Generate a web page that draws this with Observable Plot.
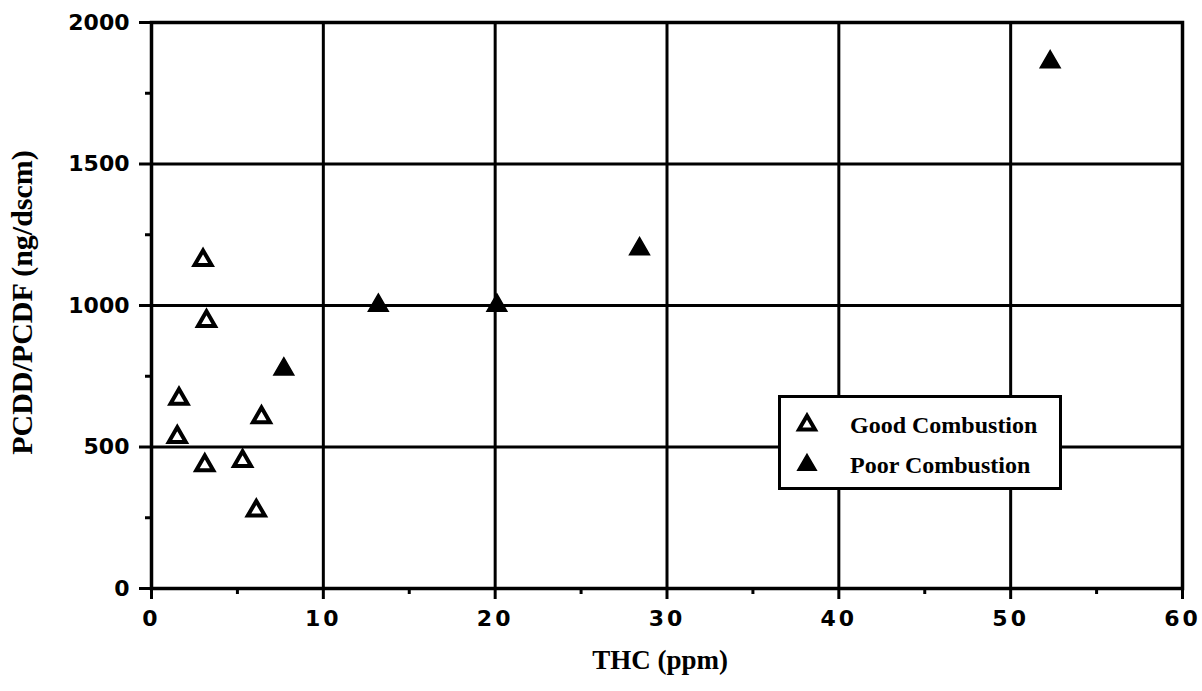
<!DOCTYPE html>
<html>
<head>
<meta charset="utf-8">
<script src="https://cdn.jsdelivr.net/npm/d3@7"></script>
<script src="https://cdn.jsdelivr.net/npm/@observablehq/plot@0.6"></script>
<style>
  html, body { margin: 0; padding: 0; background: #fff; }
  #wrap { position: relative; width: 1202px; height: 691px; }
  #wrap svg { display: block; }
  .legend {
    position: absolute; left: 778px; top: 395px; width: 278px; height: 89px;
    border: 3px solid #000; background: #fff;
    font-family: "Liberation Serif", "Times New Roman", serif; font-weight: bold;
    font-size: 24px; color: #000;
  }
  .legend .row { position: absolute; left: 0; display: flex; align-items: center; height: 30px; }
  .legend .row svg { width: 26px; height: 26px; margin-left: 13px; margin-right: 30px; }
</style>
</head>
<body>
<div id="wrap"></div>
<script>
// PCDD/PCDF emissions versus total hydrocarbons
const goodTHC  = [1.5, 1.6, 3.0, 3.1, 3.2, 5.3, 6.1, 6.4];
const goodPCDD = [535, 670, 1160, 435, 945, 450, 275, 605];
const poorTHC  = [7.7, 13.2, 20.1, 28.4, 52.3];
const poorPCDD = [775, 1000, 1000, 1200, 1860];

const xTicks = [0, 10, 20, 30, 40, 50, 60];
const xMinor = [5, 15, 25, 35, 45, 55];
const yTicks = [0, 500, 1000, 1500, 2000];
const yMinor = [250, 750, 1250, 1750];
const xGrid = [10, 20, 30, 40, 50];
const yGrid = [500, 1000, 1500];

const xTitle = "THC (ppm)";
const yTitle = "PCDD/PCDF (ng/dscm)";
const seriesNames = ["Good Combustion", "Poor Combustion"];

const good = goodTHC.map((x, i) => ({x, y: goodPCDD[i]}));
const poor = poorTHC.map((x, i) => ({x, y: poorPCDD[i]}));

const tickFont = "DejaVu Sans, Verdana, sans-serif";
const titleFont = "Liberation Serif, Times New Roman, serif";

const chart = Plot.plot({
  width: 1202,
  height: 691,
  marginLeft: 151,
  marginRight: 20,
  marginTop: 22,
  marginBottom: 103,
  style: {background: "#fff", color: "#000"},
  x: {domain: [0, 60]},
  y: {domain: [0, 2000]},
  marks: [
    Plot.ruleX(xGrid, {stroke: "#000", strokeWidth: 3}),
    Plot.ruleY(yGrid, {stroke: "#000", strokeWidth: 3}),
    Plot.frame({stroke: "#000", strokeWidth: 3.5}),
    Plot.axisX(xTicks, {
      tickSize: 11, tickPadding: 11, strokeWidth: 3, label: null,
      fontFamily: tickFont, fontWeight: "bold", fontSize: 22,
      tickFormat: d => String(d)
    }),
    Plot.axisX(xMinor, {tickSize: 6, strokeWidth: 3, text: null, label: null}),
    Plot.axisY(yTicks, {
      tickSize: 12, tickPadding: 10, strokeWidth: 3, label: null,
      fontFamily: tickFont, fontWeight: "bold", fontSize: 22,
      tickFormat: d => String(d)
    }),
    Plot.axisY(yMinor, {tickSize: 6, strokeWidth: 3, text: null, label: null}),
    Plot.text([yTitle], {
      frameAnchor: "left", textAnchor: "middle", rotate: -90, dx: -129, dy: -3,
      fontFamily: titleFont, fontWeight: "bold", fontSize: 30, fill: "#000"
    }),
    Plot.text([xTitle], {
      frameAnchor: "bottom", dx: -7, dy: 80,
      fontFamily: titleFont, fontWeight: "bold", fontSize: 27, fill: "#000"
    }),
    Plot.dot(good, {x: "x", y: "y", symbol: "triangle", r: 6.3,
      stroke: "#000", strokeWidth: 4, fill: "#fff"}),
    Plot.dot(poor, {x: "x", y: "y", symbol: "triangle", r: 7.4,
      stroke: "#000", strokeWidth: 1.5, fill: "#000"})
  ]
});

// letter-spaced x tick labels
d3.select(chart).selectAll("g[aria-label='x-axis tick label'] text")
  .style("letter-spacing", "3px");

const wrap = document.getElementById("wrap");
wrap.appendChild(chart);

// legend box drawn inside the plot area
const legend = document.createElement("div");
legend.className = "legend";
const tri = (filled) => {
  const s = d3.create("svg").attr("viewBox", "-13 -13 26 26");
  s.append("path")
    .attr("d", d3.symbol(d3.symbolTriangle, filled ? 150 : 110)())
    .attr("fill", filled ? "#000" : "#fff")
    .attr("stroke", "#000")
    .attr("stroke-width", filled ? 1.5 : 4);
  return s.node();
};
seriesNames.forEach((name, i) => {
  const row = document.createElement("div");
  row.className = "row";
  row.style.top = (i === 0 ? 12 : 52) + "px";
  row.appendChild(tri(i === 1));
  const label = document.createElement("span");
  label.textContent = name;
  row.appendChild(label);
  legend.appendChild(row);
});
wrap.appendChild(legend);
</script>
</body>
</html>
